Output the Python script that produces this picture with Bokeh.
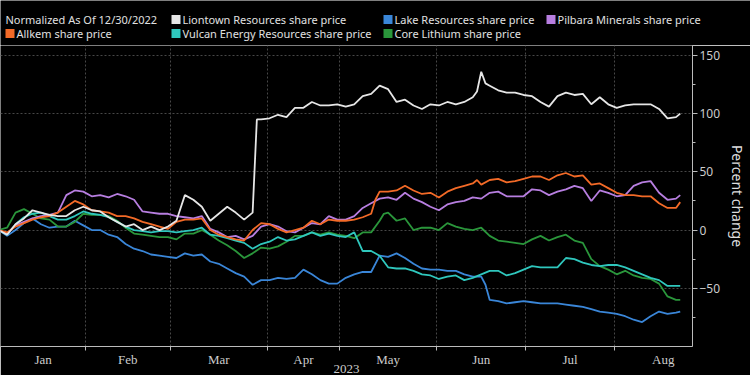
from bokeh.plotting import figure
from bokeh.layouts import column, row
from bokeh.models import Range1d, FixedTicker
from bokeh.core.properties import value
from bokeh.embed import file_html
from bokeh.resources import INLINE

# ---------------- data ----------------
# trading-day index (0 = 30 Dec 2022), sampled every two trading days
base_days = list(range(0, 161, 2)) + [161]

liontown = [0, -4, 5, 10, 17, 15, 13, 12, 12, 17,
            20, 17, 16, 11, 7, 3, 5, 0, 3, 0,
            3, 8, 30, 26, 20, 8, 14, 20, 15, 9,
            15, 95, 96, 99, 97, 105, 105, 110, 107, 107,
            108, 106, 108, 115, 117, 124, 121, 110, 112, 107,
            104, 108, 107, 110, 108, 110, 114, 136, 124, 120,
            118, 118, 116, 115, 110, 106, 115, 118, 116, 117,
            108, 114, 108, 105, 107, 108, 108, 108, 104, 96,
            97, 100]
liontown_extra_days = [61, 113, 115]
liontown_extra_vals = [95, 119, 126]

allkem = [0, -2, 3, 6, 9, 11, 12, 15, 20, 25,
          22, 17, 16, 15, 12, 12, 10, 7, 5, 3,
          1, 7, 9, 9, 10, 0, -4, -6, -8, -9,
          0, 6, 5, 1, -2, 0, 2, 8, 5, 9,
          8, 8, 9, 11, 14, 33, 33, 34, 38, 34,
          31, 32, 28, 33, 36, 38, 40, 39, 43, 44,
          41, 42, 44, 46, 46, 43, 47, 49, 46, 47,
          39, 40, 36, 32, 30, 30, 29, 29, 23, 19,
          19, 24]
allkem_extra_days = [89, 113]
allkem_extra_vals = [26, 43]

pilbara = [0, -3, 4, 7, 10, 12, 13, 15, 30, 34,
           33, 29, 30, 28, 31, 29, 26, 16, 15, 14,
           14, 12, 11, 10, 12, 1, -2, -6, -5, -8,
           -5, 3, 5, 3, -1, -2, 2, 6, 5, 12,
           9, 9, 12, 19, 23, 27, 28, 26, 32, 27,
           24, 20, 17, 22, 24, 25, 28, 27, 32, 33,
           29, 29, 29, 35, 34, 30, 33, 35, 38, 36,
           25, 34, 32, 29, 30, 38, 41, 42, 32, 26,
           27, 30]

vulcan = [0, -4, 5, 11, 14, 15, 12, 9, 9, 12,
          16, 14, 13, 11, 7, 3, 0, -1, -2, -1,
          -1, -2, -1, 0, 2, -4, -5, -7, -9, -11,
          -16, -12, -10, -6, -9, -8, -5, -2, -5, -3,
          -5, -6, -2, -18, -18, -22, -32, -33, -33, -35,
          -38, -39, -42, -40, -39, -43, -41, -38, -35, -35,
          -39, -37, -34, -31, -32, -32, -32, -24, -25, -28,
          -30, -31, -30, -30, -32, -35, -38, -41, -43, -48,
          -48, -48]

core = [0, 2, 15, 18, 14, 10, 9, 3, 3, 7,
        14, 13, 13, 12, 8, 2, -3, -4, -5, -6,
        -6, -8, -3, -3, 0, -4, -9, -13, -18, -24,
        -20, -15, -16, -14, -10, -5, -5, -2, -4, -2,
        -4, -5, -7, -2, -2, 8, 15, 8, 10, 0,
        2, 2, 0, 6, 3, 1, 0, 2, -5, -9,
        -10, -11, -12, -8, -5, -9, -6, -4, -9, -11,
        -25, -31, -34, -38, -35, -39, -41, -42, -46, -57,
        -60, -60]
core_extra_days = [91]
core_extra_vals = [14]

lake = [0, -5, 0, 6, 10, 5, 2, 3, 3, 8,
        4, 0, 0, -4, -6, -12, -16, -18, -21, -22,
        -23, -24, -20, -22, -21, -27, -29, -33, -37, -40,
        -47, -43, -43, -41, -42, -41, -34, -38, -43, -46,
        -46, -41, -38, -36, -36, -22, -23, -20, -24, -29,
        -33, -34, -34, -35, -35, -38, -40, -40, -60, -61,
        -63, -62, -61, -62, -63, -63, -63, -64, -65, -66,
        -68, -70, -71, -72, -74, -77, -79, -74, -70, -72,
        -71, -70]
lake_extra_days = [115]
lake_extra_vals = [-47]

months = ["Jan", "Feb", "Mar", "Apr", "May", "Jun", "Jul", "Aug"]
month_trading_days = [20, 20, 23, 17, 23, 21, 21, 23]
y_major = [-50, 0, 50, 100, 150]
y_minor = [-75, -25, 25, 75, 125]

names = ["Liontown Resources share price", "Lake Resources share price",
         "Pilbara Minerals share price", "Allkem share price",
         "Vulcan Energy Resources share price", "Core Lithium share price"]
note = "Normalized As Of 12/30/2022"


def merge(vals, extra_d=(), extra_v=()):
    pts = sorted(list(zip(base_days, vals)) + list(zip(extra_d, extra_v)))
    return [d for d, _ in pts], [v for _, v in pts]


bounds = []
mids = []
start = 0.5
for n in month_trading_days:
    mids.append(start + n / 2.0)
    start += n
    bounds.append(start)
bounds = bounds[:-1]

BG = "#000000"
FONT = "Noto Sans"

colors = {
    "Liontown Resources share price": "#e6e6e6",
    "Lake Resources share price": "#3a86d8",
    "Pilbara Minerals share price": "#b77ee0",
    "Allkem share price": "#f36a27",
    "Vulcan Energy Resources share price": "#2fc7bd",
    "Core Lithium share price": "#2a963b",
}

# ---------------- legend strip ----------------
leg = figure(width=750, height=45, output_backend="svg", toolbar_location=None,
             x_range=Range1d(0, 750), y_range=Range1d(45, 0),
             x_axis_location=None, y_axis_location=None,
             background_fill_color=BG, border_fill_color=BG,
             min_border=0, min_border_left=0, min_border_right=0,
             min_border_top=0, min_border_bottom=0)
leg.outline_line_color = None
leg.xgrid.visible = False
leg.ygrid.visible = False

ROW1, ROW2 = 19, 33
slot_x = {names[0]: 171, names[1]: 383, names[2]: 546,
          names[3]: 5, names[4]: 171, names[5]: 383}
slot_y = {names[0]: ROW1, names[1]: ROW1, names[2]: ROW1,
          names[3]: ROW2, names[4]: ROW2, names[5]: ROW2}

leg.scatter([slot_x[n] + 4.5 for n in names], [slot_y[n] for n in names],
            marker="square", size=9, line_color=None,
            fill_color=[colors[n] for n in names])
leg.text([5] + [slot_x[n] + 11 for n in names],
         [ROW1] + [slot_y[n] for n in names],
         text=[note] + names, text_color="#e0e0e0",
         text_font=value(FONT), text_font_size="11px",
         text_baseline="middle", text_align="left")

# ---------------- main chart ----------------
p = figure(width=750, height=330, output_backend="svg", toolbar_location=None,
           x_range=Range1d(0.45, 163.9), y_range=Range1d(-100, 158.5),
           y_axis_location="right",
           background_fill_color=BG, border_fill_color=BG,
           min_border_left=0, min_border_right=57, min_border_top=0,
           min_border_bottom=0)
p.outline_line_color = None

p.xgrid.ticker = FixedTicker(ticks=bounds)
p.ygrid.ticker = FixedTicker(ticks=y_major)
for g in (p.xgrid, p.ygrid):
    g.grid_line_color = "#474747"
    g.grid_line_dash = "2 2"
    g.grid_line_width = 1

xa = p.xaxis[0]
xa.ticker = FixedTicker(ticks=mids, minor_ticks=bounds)
xa.major_label_overrides = {m: lab for m, lab in zip(mids, months)}
xa.major_tick_out = 0
xa.major_tick_in = 0
xa.minor_tick_out = 4
xa.minor_tick_in = 0
xa.minor_tick_line_color = "#bbbbbb"
xa.axis_line_color = "#bbbbbb"
xa.major_label_text_color = "#cccccc"
xa.major_label_text_font = "Liberation Sans Narrow"
xa.major_label_text_font_size = "13px"
xa.major_label_standoff = 1
xa.axis_label = "2023"
xa.axis_label_text_color = "#cccccc"
xa.axis_label_text_font = "Liberation Sans Narrow"
xa.axis_label_text_font_style = "normal"
xa.axis_label_text_font_size = "13px"
xa.axis_label_standoff = -5

ya = p.yaxis[0]
ya.ticker = FixedTicker(ticks=y_major, minor_ticks=y_minor)
ya.axis_line_color = "#bbbbbb"
ya.major_tick_line_color = "#bbbbbb"
ya.minor_tick_line_color = "#bbbbbb"
ya.major_tick_out = 5
ya.major_tick_in = 0
ya.minor_tick_out = 3
ya.minor_tick_in = 0
ya.major_label_text_color = "#cccccc"
ya.major_label_text_font = FONT
ya.major_label_text_font_size = "12px"
ya.major_label_standoff = 2
ya.axis_label = "Percent change"
ya.axis_label_text_color = "#dddddd"
ya.axis_label_text_font = FONT
ya.axis_label_text_font_style = "normal"
ya.axis_label_text_font_size = "14px"
ya.axis_label_standoff = 5

series = [
    (names[1], merge(lake, lake_extra_days, lake_extra_vals)),
    (names[5], merge(core, core_extra_days, core_extra_vals)),
    (names[4], merge(vulcan)),
    (names[2], merge(pilbara)),
    (names[3], merge(allkem, allkem_extra_days, allkem_extra_vals)),
    (names[0], merge(liontown, liontown_extra_days, liontown_extra_vals)),
]
for name, (xs, ys) in series:
    p.line(xs, ys, line_color=colors[name], line_width=1.8)

layout = column(row(leg, spacing=0), row(p, spacing=0), spacing=0)
open("out.html", "w").write(file_html(layout, INLINE))
